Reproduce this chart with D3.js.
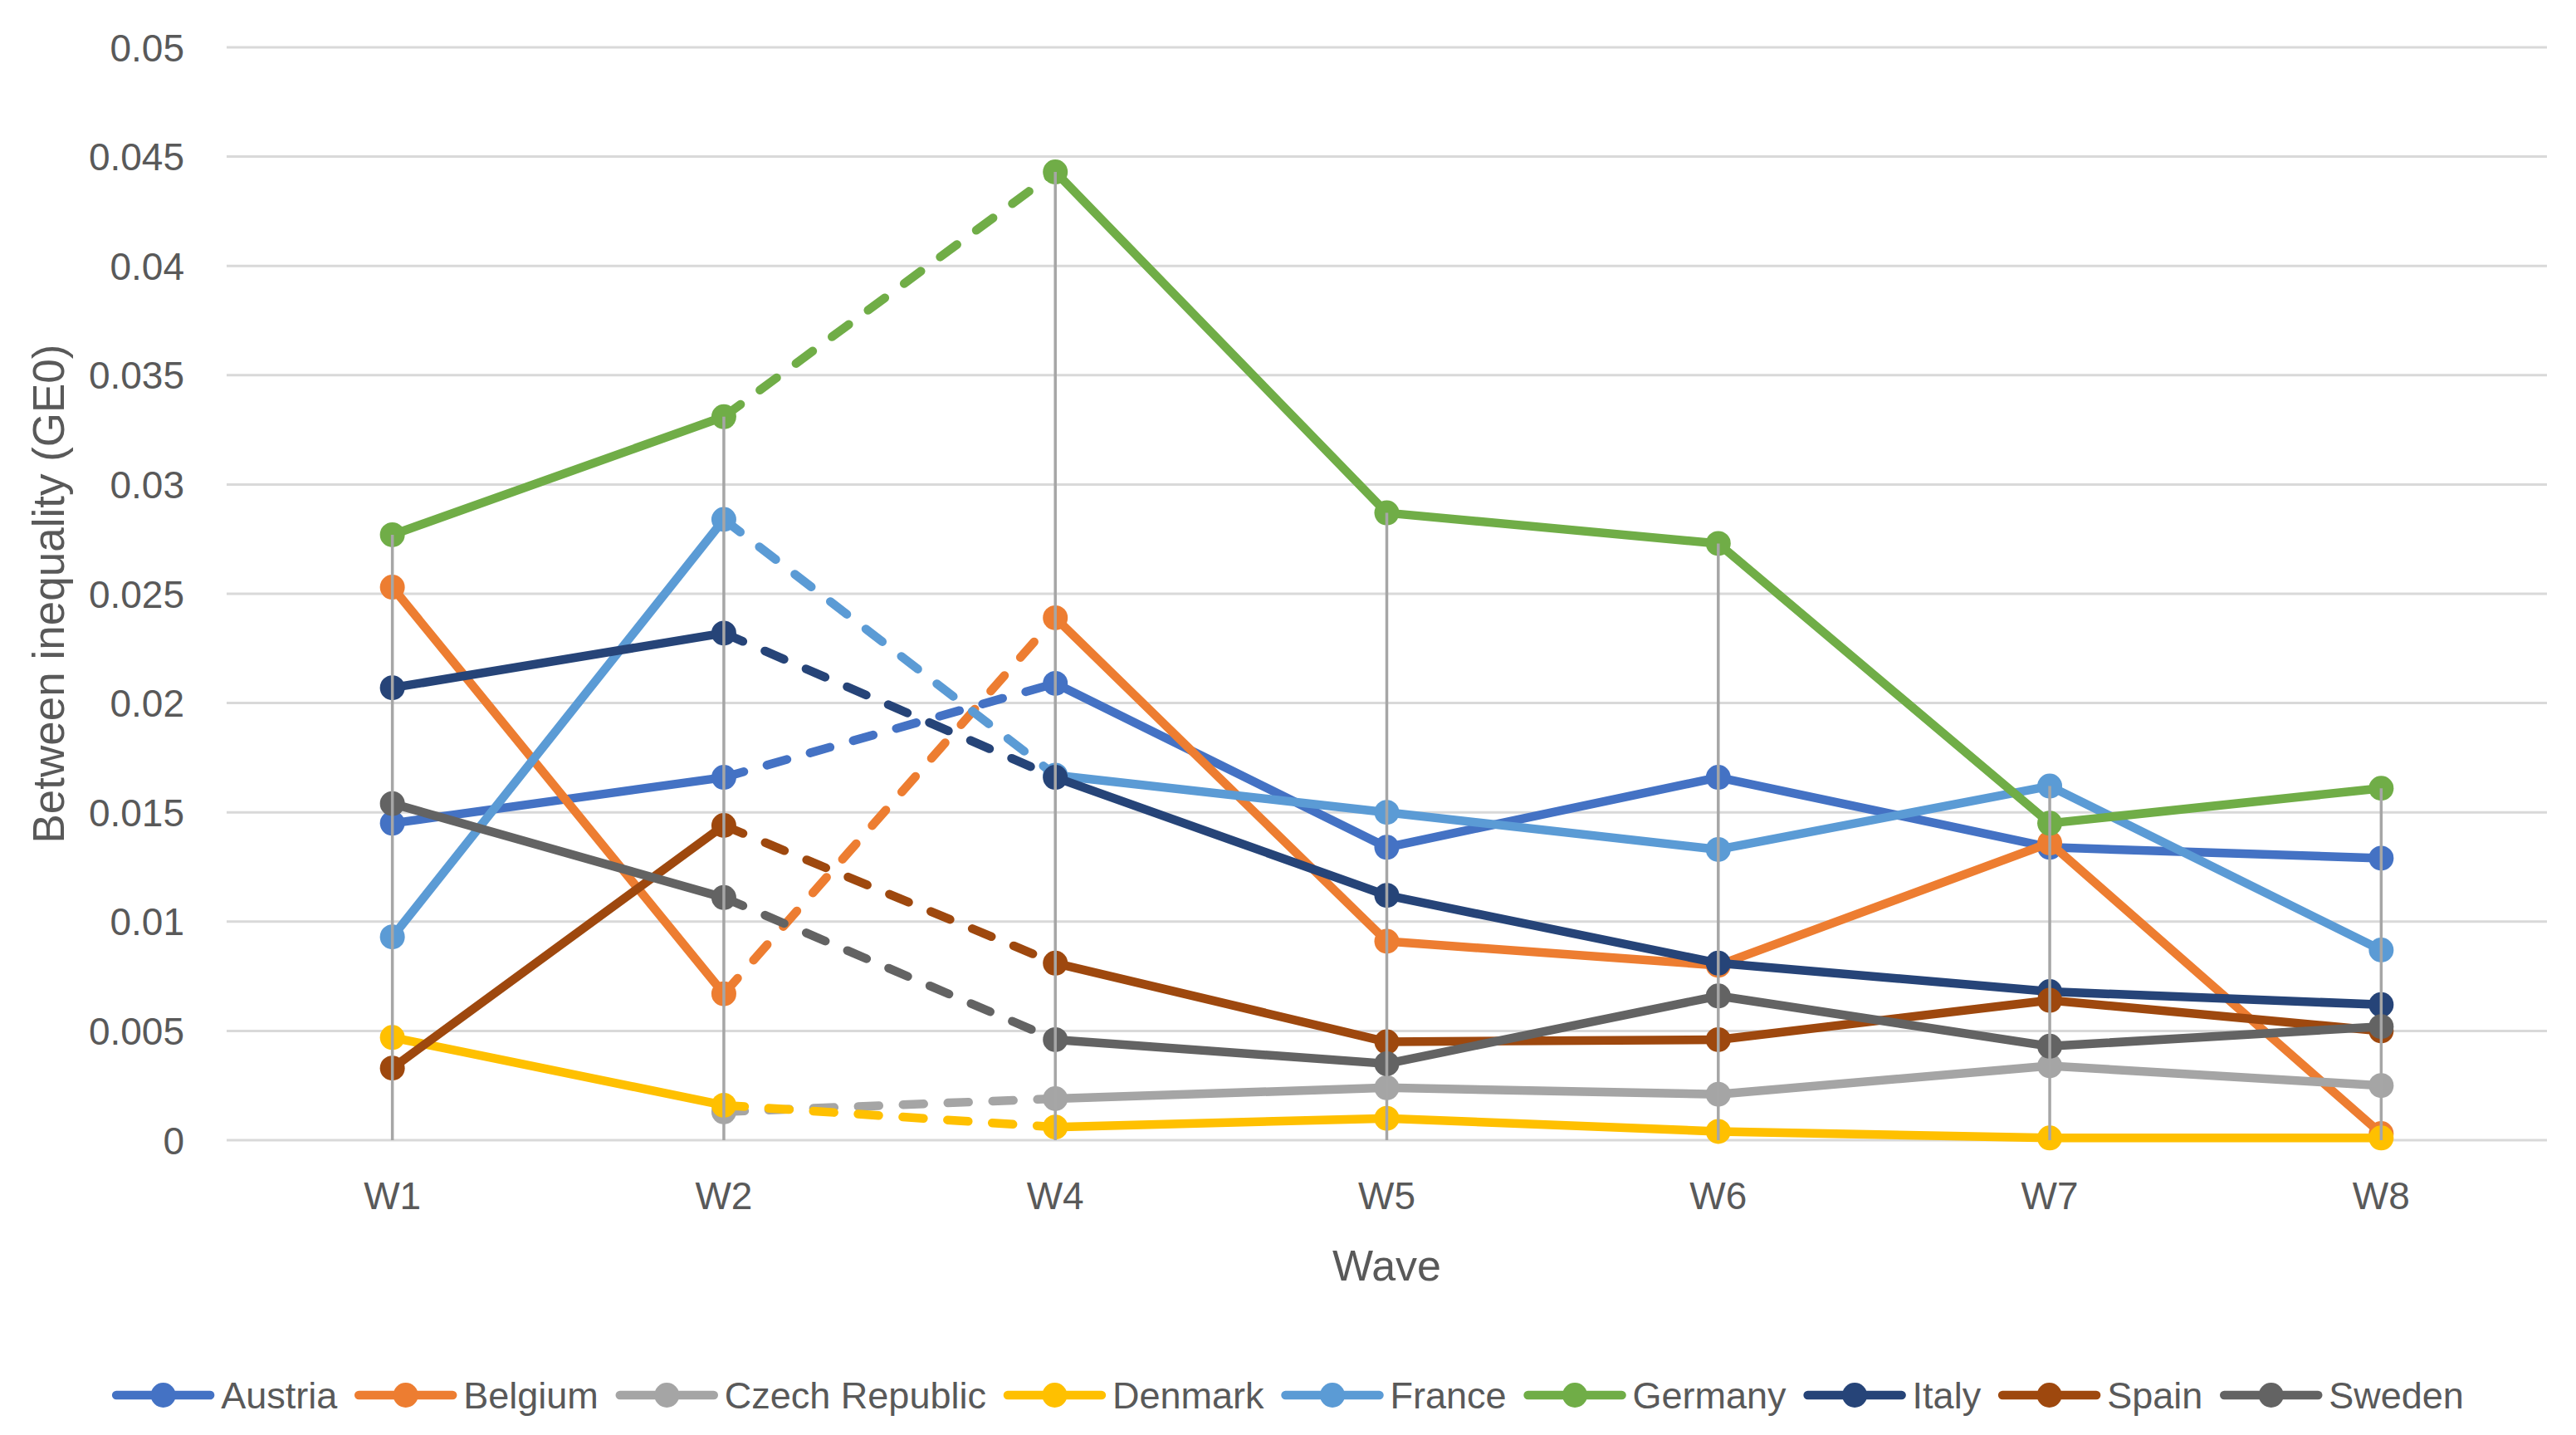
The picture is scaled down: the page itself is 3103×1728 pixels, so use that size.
<!DOCTYPE html>
<html>
<head>
<meta charset="utf-8">
<script src="https://cdn.jsdelivr.net/npm/d3@7"></script>
<style>
  body { margin: 0; background: #fff; }
  svg { display: block; }
  text { font-family: "Liberation Sans", Arial, sans-serif; fill: #595959; }
</style>
</head>
<body>
<svg id="chart" width="3103" height="1728"></svg>
<script>
const waves = ['W1', 'W2', 'W4', 'W5', 'W6', 'W7', 'W8'];
const countries = ['Austria', 'Belgium', 'Czech Republic', 'Denmark', 'France', 'Germany', 'Italy', 'Spain', 'Sweden'];
const colors = ['#4472C4', '#ED7D31', '#A5A5A5', '#FFC000', '#5B9BD5', '#70AD47', '#264478', '#9E480E', '#636363'];
const yTicks = [0, 0.005, 0.01, 0.015, 0.02, 0.025, 0.03, 0.035, 0.04, 0.045, 0.05];

// W3 is missing, so the W2 -> W4 link is drawn dashed
const dashedFrom = ['W2'];

const austria = [0.0145, 0.0166, 0.0209, 0.0134, 0.0166, 0.0134, 0.0129];
const belgium = [0.0253, 0.0067, 0.0239, 0.0091, 0.0080, 0.0136, 0.0003];
const czechRepublic = [null, 0.0013, 0.0019, 0.0024, 0.0021, 0.0034, 0.0025];
const denmark = [0.0047, 0.0016, 0.0006, 0.0010, 0.0004, 0.0001, 0.0001];
const france = [0.0093, 0.0284, 0.0167, 0.0150, 0.0133, 0.0162, 0.0087];
const germany = [0.0277, 0.0331, 0.0443, 0.0287, 0.0273, 0.0145, 0.0161];
const italy = [0.0207, 0.0232, 0.0166, 0.0112, 0.0081, 0.0068, 0.0062];
const spain = [0.0033, 0.0144, 0.0081, 0.0045, 0.0046, 0.0064, 0.0050];
const sweden = [0.0154, 0.0111, 0.0046, 0.0035, 0.0066, 0.0043, 0.0052];

const seriesValues = [austria, belgium, czechRepublic, denmark, france, germany, italy, spain, sweden];

const svg = d3.select('#chart');
const width = 3103;

const x = d3.scalePoint().domain(waves).range([273, 3068]).padding(0.5);
const y = d3.scaleLinear().domain([0, 0.05]).range([1373, 57]);

// gridlines
svg.append('g')
  .selectAll('line')
  .data(yTicks)
  .enter()
  .append('line')
  .attr('x1', 273)
  .attr('x2', 3068)
  .attr('y1', (d) => y(d))
  .attr('y2', (d) => y(d))
  .attr('stroke', '#d9d9d9')
  .attr('stroke-width', 3);

// y tick labels
svg.append('g')
  .selectAll('text')
  .data(yTicks)
  .enter()
  .append('text')
  .attr('x', 222)
  .attr('y', (d) => y(d))
  .attr('dy', '0.36em')
  .attr('text-anchor', 'end')
  .attr('font-size', 46)
  .text((d) => String(d));

// x tick labels
svg.append('g')
  .selectAll('text')
  .data(waves)
  .enter()
  .append('text')
  .attr('x', (d) => x(d))
  .attr('y', 1456)
  .attr('text-anchor', 'middle')
  .attr('font-size', 46)
  .text((d) => d);

// axis titles
svg.append('text')
  .attr('transform', 'translate(77, 715) rotate(-90)')
  .attr('text-anchor', 'middle')
  .attr('font-size', 53)
  .text('Between inequality (GE0)');

svg.append('text')
  .attr('x', (273 + 3068) / 2)
  .attr('y', 1542)
  .attr('text-anchor', 'middle')
  .attr('font-size', 52)
  .text('Wave');

// series
const line = d3.line()
  .x((d) => x(d.wave))
  .y((d) => y(d.value));

seriesValues.forEach((values, i) => {
  const points = waves
    .map((w, j) => ({ wave: w, value: values[j] }))
    .filter((p) => p.value !== null);

  const segments = d3.pairs(points);
  const g = svg.append('g').attr('class', 'series');

  g.selectAll('path')
    .data(segments)
    .enter()
    .append('path')
    .attr('d', (s) => line(s))
    .attr('fill', 'none')
    .attr('stroke', colors[i])
    .attr('stroke-width', 10.5)
    .attr('stroke-linecap', 'round')
    .attr('stroke-linejoin', 'round')
    .attr('stroke-dasharray', (s) => (dashedFrom.includes(s[0].wave) ? '25 29' : null));

  g.selectAll('circle')
    .data(points)
    .enter()
    .append('circle')
    .attr('cx', (d) => x(d.wave))
    .attr('cy', (d) => y(d.value))
    .attr('r', 15)
    .attr('fill', colors[i]);
});

// drop lines from the highest point of each wave down to the axis
svg.append('g')
  .selectAll('line')
  .data(waves)
  .enter()
  .append('line')
  .attr('x1', (d) => x(d))
  .attr('x2', (d) => x(d))
  .attr('y1', (d, j) => y(d3.max(seriesValues, (v) => v[j])))
  .attr('y2', y(0))
  .attr('stroke', '#a6a6a6')
  .attr('stroke-width', 3.5);

// legend
const legend = svg.append('g');
const legendY = 1680;
const symbolW = 123;

const items = legend.selectAll('g')
  .data(countries)
  .enter()
  .append('g');

items.append('line')
  .attr('x1', 5)
  .attr('x2', symbolW - 5)
  .attr('y1', legendY)
  .attr('y2', legendY)
  .attr('stroke', (d, i) => colors[i])
  .attr('stroke-width', 10.5)
  .attr('stroke-linecap', 'round');

items.append('circle')
  .attr('cx', symbolW / 2)
  .attr('cy', legendY)
  .attr('r', 15)
  .attr('fill', (d, i) => colors[i]);

items.append('text')
  .attr('x', symbolW + 8)
  .attr('y', legendY)
  .attr('dy', '0.36em')
  .attr('font-size', 45)
  .text((d) => d);

const widths = [];
items.each(function () {
  widths.push(symbolW + 8 + d3.select(this).select('text').node().getComputedTextLength());
});
const total = d3.sum(widths) + 21 * (widths.length - 1);
let cursor = width / 2 - total / 2;
items.attr('transform', (d, i) => {
  const t = 'translate(' + cursor + ',0)';
  cursor += widths[i] + 21;
  return t;
});
</script>
</body>
</html>
